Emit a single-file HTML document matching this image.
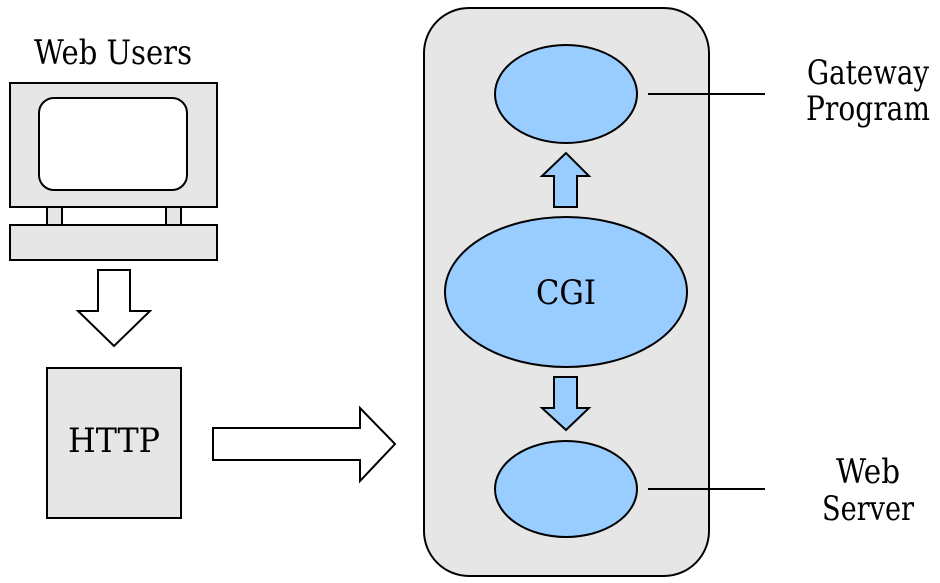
<!DOCTYPE html>
<html><head><style>html,body{margin:0;padding:0;background:#fff}svg{display:block}</style></head>
<body>
<svg width="940" height="583" viewBox="0 0 940 583" xmlns="http://www.w3.org/2000/svg" font-family="'DejaVu Serif','Liberation Serif',serif" font-size="34" fill="#000">
<rect x="0" y="0" width="940" height="583" fill="#fff"/>
<rect x="10" y="83" width="207" height="124" fill="#e6e6e6" stroke="#000" stroke-width="2"/>
<rect x="39" y="98" width="148" height="92" rx="15" fill="#fff" stroke="#000" stroke-width="2"/>
<rect x="47" y="207" width="15" height="18" fill="#e6e6e6" stroke="#000" stroke-width="2"/>
<rect x="166" y="207" width="15" height="18" fill="#e6e6e6" stroke="#000" stroke-width="2"/>
<rect x="10" y="225" width="207" height="35" fill="#e6e6e6" stroke="#000" stroke-width="2"/>
<text x="113" y="64" text-anchor="middle" textLength="158" lengthAdjust="spacingAndGlyphs">Web Users</text>
<polygon points="98,270 130,270 130,311 150,311 114,346 78,311 98,311" fill="#fff" stroke="#000" stroke-width="2"/>
<rect x="47" y="368" width="134" height="150" fill="#e6e6e6" stroke="#000" stroke-width="2"/>
<text x="114" y="452" text-anchor="middle" textLength="92" lengthAdjust="spacingAndGlyphs">HTTP</text>
<polygon points="213,428 360,428 360,408 395,444 360,481 360,460 213,460" fill="#fff" stroke="#000" stroke-width="2"/>
<rect x="424" y="8" width="285" height="568" rx="45" fill="#e6e6e6" stroke="#000" stroke-width="2"/>
<ellipse cx="566" cy="94" rx="71" ry="49" fill="#99ccff" stroke="#000" stroke-width="2"/>
<ellipse cx="566" cy="292" rx="121" ry="75" fill="#99ccff" stroke="#000" stroke-width="2"/>
<ellipse cx="566" cy="489" rx="71" ry="48" fill="#99ccff" stroke="#000" stroke-width="2"/>
<text x="566" y="304" text-anchor="middle" textLength="60" lengthAdjust="spacingAndGlyphs">CGI</text>
<polygon points="554,207 577,207 577,176 589,176 566,153 542,176 554,176" fill="#99ccff" stroke="#000" stroke-width="2"/>
<polygon points="554,377 577,377 577,408 589,408 566,430 542,408 554,408" fill="#99ccff" stroke="#000" stroke-width="2"/>
<line x1="648" y1="94" x2="765" y2="94" stroke="#000" stroke-width="2"/>
<line x1="648" y1="489" x2="765" y2="489" stroke="#000" stroke-width="2"/>
<text x="868" y="84" text-anchor="middle" textLength="122" lengthAdjust="spacingAndGlyphs">Gateway</text>
<text x="868" y="120" text-anchor="middle" textLength="124" lengthAdjust="spacingAndGlyphs">Program</text>
<text x="868" y="483" text-anchor="middle" textLength="64" lengthAdjust="spacingAndGlyphs">Web</text>
<text x="868" y="520" text-anchor="middle" textLength="92" lengthAdjust="spacingAndGlyphs">Server</text>
</svg>
</body></html>
